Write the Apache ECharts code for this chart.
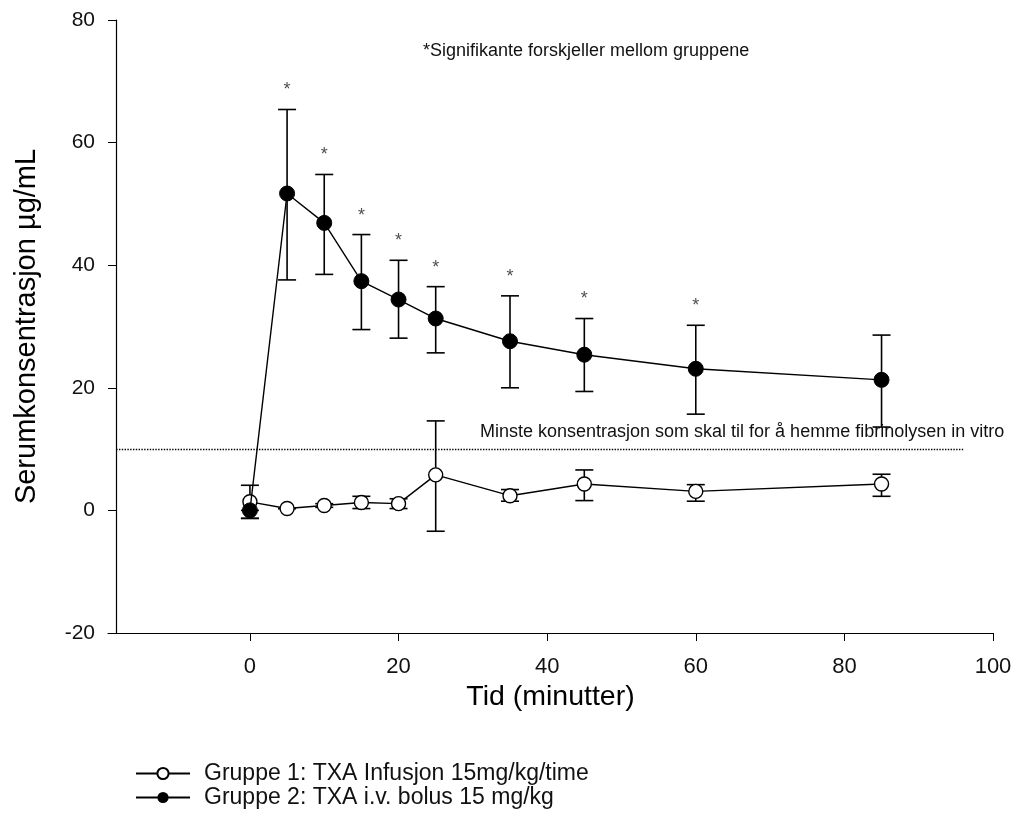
<!DOCTYPE html>
<html>
<head>
<meta charset="utf-8">
<script src="https://cdn.jsdelivr.net/npm/echarts@6/dist/echarts.min.js"></script>
<style>
html, body { margin: 0; padding: 0; background: #fff; }
#main { width: 1032px; height: 817px; }
</style>
</head>
<body>
<div id="main"></div>
<script>
// tid i minutter
var times = [0, 5, 10, 15, 20, 25, 35, 45, 60, 85];

// Gruppe 1: infusjon
var g1Mean = [1.4, 0.3, 0.8, 1.3, 1.1, 5.8, 2.4, 4.3, 3.1, 4.3];
var g1Low  = [-1.3, 0.3, 0.5, 0.3, 0.3, -3.4, 1.5, 1.6, 1.5, 2.3];
var g1High = [4.1, 0.3, 1.1, 2.3, 1.9, 14.6, 3.4, 6.6, 4.2, 5.9];

// Gruppe 2: bolus
var g2Mean = [0, 51.7, 46.9, 37.4, 34.4, 31.3, 27.6, 25.4, 23.1, 21.3];
var g2Low  = [-1.3, 37.6, 38.5, 29.5, 28.1, 25.7, 20.0, 19.4, 15.7, 13.6];
var g2High = [0, 65.4, 54.8, 45.0, 40.8, 36.5, 35.0, 31.3, 30.2, 28.6];

// signifikante tidspunkt
var sigTimes = [5, 10, 15, 20, 25, 35, 45, 60];

var xTicks = [0, 20, 40, 60, 80, 100];
var threshold = 10;

var fontName = 'Liberation Sans, Arial, sans-serif';

function pairs(ys) {
    return times.map(function (t, i) { return [t, ys[i]]; });
}
function errData(low, high) {
    return times.map(function (t, i) { return [t, low[i], high[i]]; });
}
function sigData() {
    return sigTimes.map(function (t) {
        return [t, g2High[times.indexOf(t)]];
    });
}

function renderErr(params, api) {
    var x = api.value(0);
    var lo = api.coord([x, api.value(1)]);
    var hi = api.coord([x, api.value(2)]);
    var w = 9;
    var st = { stroke: '#000', lineWidth: 1.6 };
    return {
        type: 'group',
        children: [
            { type: 'line', shape: { x1: lo[0], y1: lo[1], x2: hi[0], y2: hi[1] }, style: st },
            { type: 'line', shape: { x1: lo[0] - w, y1: lo[1], x2: lo[0] + w, y2: lo[1] }, style: st },
            { type: 'line', shape: { x1: hi[0] - w, y1: hi[1], x2: hi[0] + w, y2: hi[1] }, style: st }
        ]
    };
}

var myChart = echarts.init(document.getElementById('main'));

var option = {
    animation: false,
    textStyle: { fontFamily: fontName },
    grid: { left: 108, right: 39, top: 20, bottom: 184 },
    title: {
        text: '*Signifikante forskjeller mellom gruppene',
        left: 418,
        top: 37,
        textStyle: { fontSize: 18, fontWeight: 'normal', color: '#111', fontFamily: fontName }
    },
    graphic: [{
        type: 'text',
        left: 480,
        top: 423,
        style: {
            text: 'Minste konsentrasjon som skal til for å hemme fibrinolysen in vitro',
            fontSize: 18,
            fontFamily: fontName,
            fill: '#111'
        }
    }],
    legend: {
        data: ['Gruppe 1: TXA Infusjon 15mg/kg/time', 'Gruppe 2: TXA i.v. bolus 15 mg/kg'],
        orient: 'vertical',
        left: 135,
        top: 762,
        padding: 0,
        itemWidth: 54,
        itemHeight: 14,
        itemGap: 1,
        textStyle: { fontSize: 23, color: '#111', fontFamily: fontName, padding: [0, 0, 0, 9] }
    },
    xAxis: {
        type: 'value',
        min: -19.1,
        max: 100,
        name: 'Tid (minutter)',
        nameLocation: 'middle',
        nameGap: 43,
        nameTextStyle: { fontSize: 28.5, color: '#000' },
        splitLine: { show: false },
        axisLine: { onZero: false, lineStyle: { color: '#000', width: 1.2 } },
        axisTick: { customValues: xTicks, length: 8, lineStyle: { color: '#000' } },
        axisLabel: { customValues: xTicks, fontSize: 22, color: '#111', margin: 23 }
    },
    yAxis: {
        type: 'value',
        min: -20,
        max: 80,
        interval: 20,
        offset: -8,
        name: 'Serumkonsentrasjon µg/mL',
        nameLocation: 'middle',
        nameGap: 75,
        nameTextStyle: { fontSize: 29, color: '#000' },
        splitLine: { show: false },
        axisLine: { show: true, onZero: false, lineStyle: { color: '#000', width: 1.2 } },
        axisTick: { show: true, length: 8, lineStyle: { color: '#000' } },
        axisLabel: { fontSize: 21, color: '#111', margin: 21 }
    },
    series: [
        {
            type: 'custom',
            renderItem: renderErr,
            data: errData(g1Low, g1High),
            encode: { x: 0, y: [1, 2] },
            z: 1
        },
        {
            type: 'custom',
            renderItem: renderErr,
            data: errData(g2Low, g2High),
            encode: { x: 0, y: [1, 2] },
            z: 1
        },
        {
            name: 'Gruppe 1: TXA Infusjon 15mg/kg/time',
            type: 'line',
            data: pairs(g1Mean),
            symbol: 'circle',
            symbolSize: 14,
            color: '#000',
            itemStyle: { color: '#fff', borderColor: '#000', borderWidth: 1.4 },
            lineStyle: { color: '#000', width: 1.4 },
            z: 3,
            markLine: {
                silent: true,
                symbol: 'none',
                label: { show: false },
                lineStyle: { type: 'dotted', color: '#000', width: 1.4 },
                data: [[{ coord: [-18, threshold] }, { coord: [96, threshold] }]]
            }
        },
        {
            name: 'Gruppe 2: TXA i.v. bolus 15 mg/kg',
            type: 'line',
            data: pairs(g2Mean),
            symbol: 'circle',
            symbolSize: 15,
            itemStyle: { color: '#000', borderColor: '#000' },
            lineStyle: { color: '#000', width: 1.4 },
            z: 4
        },
        {
            type: 'scatter',
            data: sigData(),
            symbolSize: 0,
            silent: true,
            label: {
                show: true,
                position: 'top',
                distance: 10,
                formatter: '*',
                fontSize: 18,
                color: '#222'
            }
        }
    ]
};

myChart.setOption(option);
</script>
</body>
</html>
